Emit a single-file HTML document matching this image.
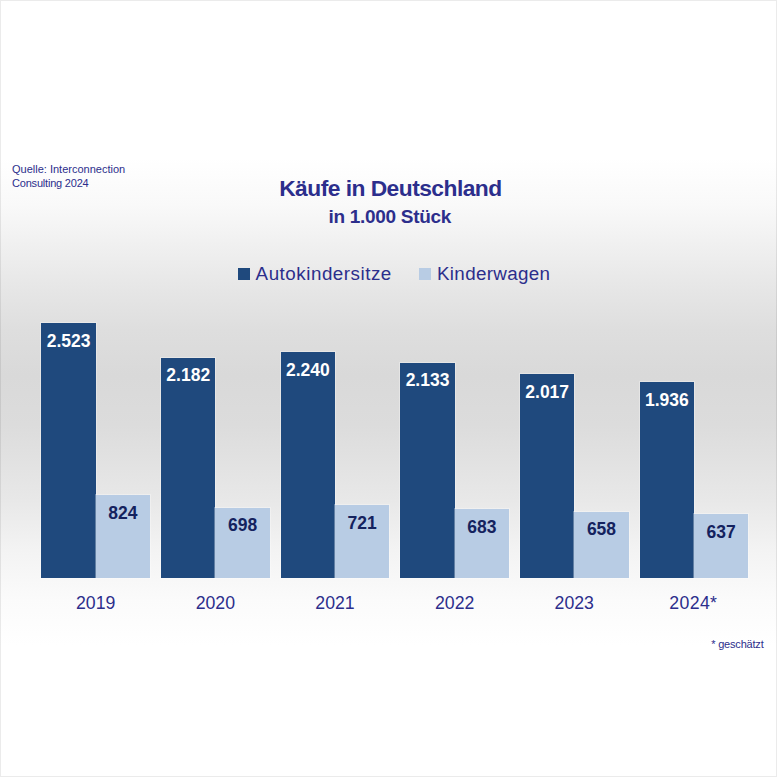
<!DOCTYPE html>
<html lang="de">
<head>
<meta charset="utf-8">
<title>Käufe in Deutschland</title>
<style>
html,body{margin:0;padding:0;}
body{width:777px;height:777px;overflow:hidden;background:#fff;font-family:"Liberation Sans",sans-serif;}
#c{position:relative;width:777px;height:777px;overflow:hidden;
background:linear-gradient(to bottom,#ffffff 0px,#ffffff 158px,#f9f9f9 205px,#f0f0f0 245px,#e6e6e6 290px,#dedede 330px,#d9d9d9 375px,#dcdcdc 425px,#e8e8e8 500px,#f3f3f3 550px,#fbfbfb 600px,#ffffff 645px,#ffffff 777px);}
#frame{position:absolute;left:0;top:0;width:775px;height:775px;border:1px solid rgba(0,0,0,0.08);}
.t{position:absolute;white-space:nowrap;line-height:1;color:#2c2e8c;}
.src{left:12px;font-size:11px;}
.title{left:0;width:777px;text-align:center;font-weight:bold;}
.h1{top:176.6px;font-size:22.8px;left:1.9px;letter-spacing:-0.53px;}
.h2{top:206.5px;font-size:19px;left:1.3px;letter-spacing:-0.3px;}
.leg{font-size:18.8px;top:265.2px;}
.mk{position:absolute;width:11.8px;height:11.8px;top:268.4px;}
.bar{position:absolute;box-shadow:0 0 0 1px rgba(255,255,255,0.3);text-align:center;font-weight:bold;font-size:17.5px;line-height:1;white-space:nowrap;}
.bar span{display:block;padding-top:9.8px;}
.d{background:#1f497d;color:#ffffff;}
.l{background:#b8cce4;color:#14225e;}
.yr{position:absolute;width:108.6px;text-align:center;font-size:17.7px;line-height:1;color:#2c2e8c;top:595px;white-space:nowrap;}
.fn{right:13.5px;top:639px;font-size:11px;letter-spacing:-0.2px;}
</style>
</head>
<body>
<div id="c">
<div id="frame"></div>
<div class="t src" style="top:163.7px">Quelle: Interconnection</div>
<div class="t src" style="top:177.8px;letter-spacing:-0.2px">Consulting 2024</div>
<div class="t title h1">Käufe in Deutschland</div>
<div class="t title h2">in 1.000 Stück</div>

<div class="mk d" style="left:238px"></div>
<div class="t leg" style="left:255.6px;letter-spacing:0.52px">Autokindersitze</div>
<div class="mk l" style="left:419px"></div>
<div class="t leg" style="left:437px;letter-spacing:0.33px">Kinderwagen</div>

<!-- 2019 -->
<div class="bar d" style="left:41.40px;top:323.15px;height:255.00px;width:54.4px"><span>2.523</span></div>
<div class="bar l" style="left:95.80px;top:494.87px;height:83.28px;width:54.2px"><span>824</span></div>
<div class="yr" style="left:41.40px">2019</div>
<!-- 2020 -->
<div class="bar d" style="left:161.05px;top:357.61px;height:220.54px;width:54.4px"><span>2.182</span></div>
<div class="bar l" style="left:215.45px;top:507.60px;height:70.55px;width:54.2px"><span>698</span></div>
<div class="yr" style="left:161.05px">2020</div>
<!-- 2021 -->
<div class="bar d" style="left:280.70px;top:351.75px;height:226.40px;width:54.4px"><span>2.240</span></div>
<div class="bar l" style="left:335.10px;top:505.28px;height:72.87px;width:54.2px"><span>721</span></div>
<div class="yr" style="left:280.70px">2021</div>
<!-- 2022 -->
<div class="bar d" style="left:400.35px;top:362.57px;height:215.58px;width:54.4px"><span>2.133</span></div>
<div class="bar l" style="left:454.75px;top:509.12px;height:69.03px;width:54.2px"><span>683</span></div>
<div class="yr" style="left:400.35px">2022</div>
<!-- 2023 -->
<div class="bar d" style="left:520.00px;top:374.29px;height:203.86px;width:54.4px"><span>2.017</span></div>
<div class="bar l" style="left:574.40px;top:511.65px;height:66.50px;width:54.2px"><span>658</span></div>
<div class="yr" style="left:520.00px">2023</div>
<!-- 2024* -->
<div class="bar d" style="left:639.65px;top:382.48px;height:195.67px;width:54.4px"><span>1.936</span></div>
<div class="bar l" style="left:694.05px;top:513.77px;height:64.38px;width:54.2px"><span>637</span></div>
<div class="yr" style="left:639.65px;letter-spacing:0.35px;margin-left:-0.6px">2024*</div>

<div class="t fn">* geschätzt</div>
</div>
</body>
</html>
